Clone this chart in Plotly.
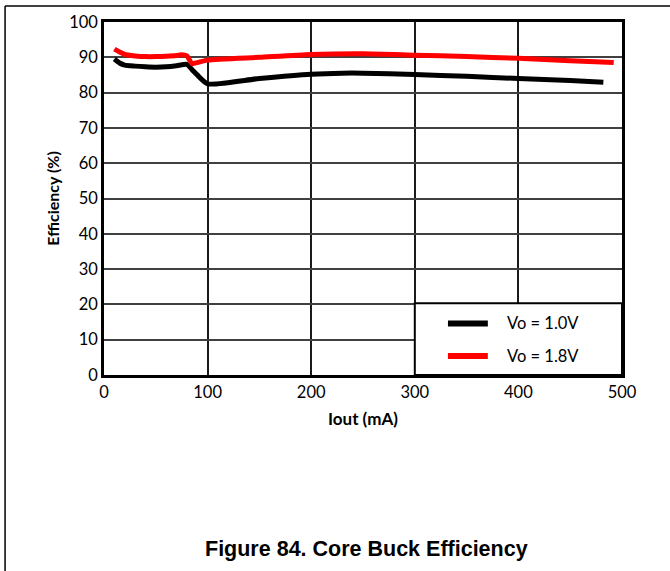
import plotly.graph_objects as go

# Data
x_10 = [10, 15, 20, 30, 40, 50, 60, 70, 80, 85, 90, 100, 150, 200, 230, 250, 300, 350, 400, 450, 482]
y_10 = [89.5, 88.4, 87.8, 87.5, 87.3, 87.2, 87.3, 87.6, 88.0, 86.5, 85.0, 82.5, 84.0, 85.2, 85.5, 85.5, 85.1, 84.6, 84.0, 83.4, 82.9]

x_18 = [10, 15, 20, 30, 40, 50, 60, 70, 75, 80, 85, 90, 100, 150, 200, 250, 300, 350, 400, 450, 492]
y_18 = [92.3, 91.5, 90.8, 90.4, 90.2, 90.2, 90.3, 90.5, 90.7, 90.4, 88.2, 88.5, 89.2, 90.0, 90.8, 91.0, 90.6, 90.2, 89.7, 89.0, 88.5]

series_names = ["Vo = 1.0V", "Vo = 1.8V"]
series_colors = ["#000000", "#ff0000"]
x_ticks = [0, 100, 200, 300, 400, 500]
y_ticks = [0, 10, 20, 30, 40, 50, 60, 70, 80, 90, 100]

FONT = "Lato, Calibri, Carlito, sans-serif"

fig = go.Figure()
fig.add_trace(go.Scatter(x=x_10, y=y_10, mode="lines", name=series_names[0],
                         line=dict(color=series_colors[0], width=5, shape="spline", smoothing=0.6),
                         showlegend=False))
fig.add_trace(go.Scatter(x=x_18, y=y_18, mode="lines", name=series_names[1],
                         line=dict(color=series_colors[1], width=5, shape="spline", smoothing=0.6),
                         showlegend=False))

shapes = []
# page frame (top and left lines)
shapes.append(dict(type="line", xref="paper", yref="paper", x0=-0.191, x1=1.1, y0=1.045, y1=1.045,
                   line=dict(color="black", width=1.5)))
shapes.append(dict(type="line", xref="paper", yref="paper", x0=-0.191, x1=-0.191, y0=1.045, y1=-0.56,
                   line=dict(color="black", width=1.5)))
# legend box
shapes.append(dict(type="rect", xref="paper", yref="paper", x0=0.600, x1=1.0, y0=0.0, y1=0.203,
                   fillcolor="white", line=dict(color="black", width=2), layer="above"))
leg_y = [0.146, 0.054]
annotations = []
for i in range(2):
    shapes.append(dict(type="line", xref="paper", yref="paper", x0=0.664, x1=0.741, y0=leg_y[i], y1=leg_y[i],
                       line=dict(color=series_colors[i], width=6), layer="above"))
    annotations.append(dict(xref="paper", yref="paper", x=0.774, y=leg_y[i], text=series_names[i],
                            showarrow=False, xanchor="left", yanchor="middle",
                            font=dict(family=FONT, size=16.5, color="black")))

annotations.append(dict(xref="paper", yref="paper", x=0.5, y=-0.124, text="<b>Iout (mA)</b>",
                        showarrow=False, xanchor="center", yanchor="middle",
                        font=dict(family=FONT, size=17, color="black")))
annotations.append(dict(xref="paper", yref="paper", x=-0.10, y=0.5, text="<b>Efficiency (%)</b>",
                        showarrow=False, xanchor="center", yanchor="middle", textangle=-90,
                        font=dict(family=FONT, size=16, color="black")))
annotations.append(dict(xref="paper", yref="paper", x=0.506, y=-0.494, text="<b>Figure 84. Core Buck Efficiency</b>",
                        showarrow=False, xanchor="center", yanchor="middle",
                        font=dict(family="Liberation Sans, Arial, sans-serif", size=21.5, color="black")))

fig.update_layout(
    width=670, height=571,
    margin=dict(l=104, r=48, t=20, b=196),
    paper_bgcolor="white", plot_bgcolor="white",
    shapes=shapes, annotations=annotations,
    showlegend=False,
)
fig.update_xaxes(range=[0, 500], tickvals=x_ticks, ticktext=[str(v) for v in x_ticks],
                 showgrid=True, gridcolor="#1a1a1a", gridwidth=1.8,
                 showline=True, linecolor="black", linewidth=2.5, mirror=True,
                 zeroline=False, ticks="", tickfont=dict(family=FONT, size=16.5, color="black"))
fig.update_yaxes(range=[0, 100], tickvals=y_ticks, ticktext=[str(v) for v in y_ticks],
                 showgrid=True, gridcolor="#404040", gridwidth=1.5,
                 showline=True, linecolor="black", linewidth=2.5, mirror=True,
                 zeroline=False, ticks="", tickfont=dict(family=FONT, size=16.5, color="black"))

fig.write_html("out.html", config={"displayModeBar": False},
               post_script="document.body.style.margin='0';document.body.style.padding='0';")
